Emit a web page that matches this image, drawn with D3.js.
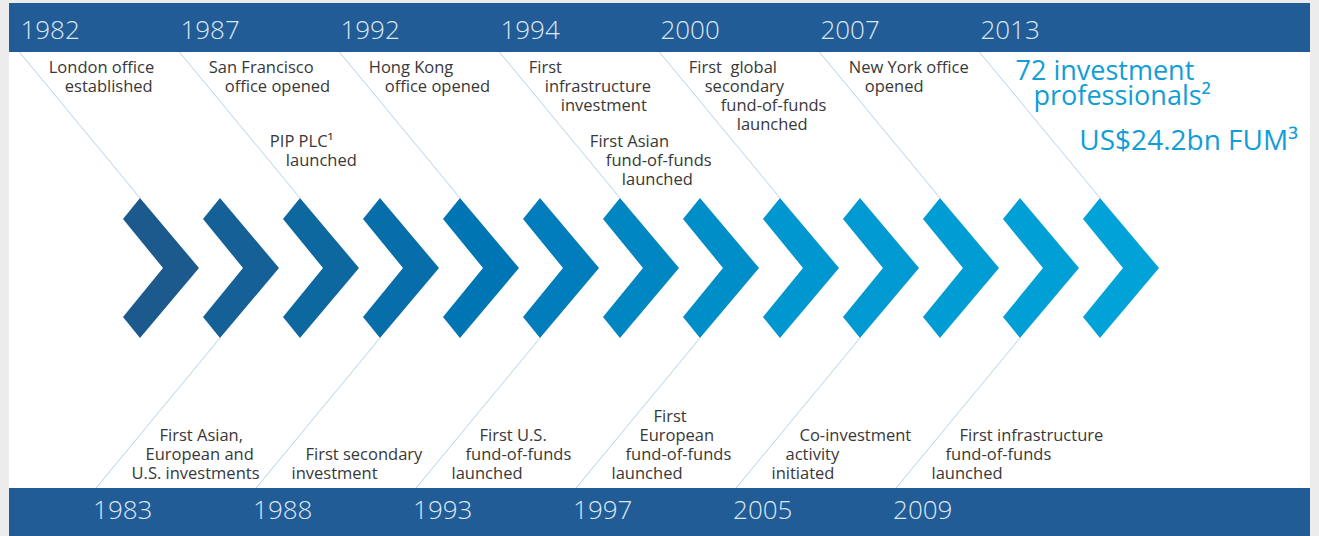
<!DOCTYPE html>
<html>
<head>
<meta charset="utf-8">
<script src="https://cdn.jsdelivr.net/npm/d3@7"></script>
<style>
       body { margin: 0; background: #ececec; }
       svg { display: block; }
       text { font-family: "Open Sans", "Noto Sans", sans-serif; white-space: pre; }
</style>
</head>
<body>
<svg id="timeline"></svg>
<script>
/*Milestone years in timeline order, top and bottom alternate*/
const milestones = ["1982","1983","1987","1988","1992","1993","1994","1997","2000","2005","2007","2009","2013"];
const topYears = ["1982","1987","1992","1994","2000","2007","2013"];
const bottomYears = ["1983","1988","1993","1997","2005","2009"];

/*Events: which year line they hang on, row (0 upper, 1 lower) and text lines*/
const eventYears = ["1982","1987","1987","1992","1994","1994","2000","2007",
                    "1983","1988","1993","1997","2005","2009"];
const eventRows  = [0,0,1,0,0,1,0,0, 0,0,0,0,0,0];
const eventLines = [
       ["London office","established"],
       ["San Francisco","office opened"],
       ["PIP PLC\u00b9","launched"],
       ["Hong Kong","office opened"],
       ["First","infrastructure","investment"],
       ["First Asian","fund-of-funds","launched"],
       ["First  global","secondary","fund-of-funds","launched"],
       ["New York office","opened"],
       ["First Asian,","European and","U.S. investments"],
       ["First secondary","investment"],
       ["First U.S.","fund-of-funds","launched"],
       ["First","European","fund-of-funds","launched"],
       ["Co-investment","activity","initiated"],
       ["First infrastructure","fund-of-funds","launched"]
];

/*Highlights for the latest year*/
const highlightYear = "2013";
const highlightRows = [0,1];
const highlightLines = [
       ["72 investment","professionals\u00b2"],
       ["US$24.2bn FUM\u00b3"]
];

const chartWidth = 1319;
const chartHeight = 536;
const barTop = 3, barHeight = 49;
const bottomBarTop = 488;
const panelLeft = 9, panelRight = 1310;
const chevTop = 198, chevMid = 268, chevBottom = 338;
const slope = 0.826;          /*horizontal shift per px of height for the diagonals*/
const lineStep = 19;          /*text line spacing*/

const svg = d3.select("#timeline")
       .attr("width", chartWidth)
       .attr("height", chartHeight);

/*x position of each chevron*/
const x = d3.scalePoint()
       .domain(milestones)
       .range([140, 1100]);

/*chevron colour goes from navy to cyan*/
const colour = d3.scaleLinear()
       .domain([0, 4, 8, 12])
       .range(["#1c5a8d", "#0075b3", "#0096cf", "#00a2d8"]);

/*row -> baseline of first text line for the top events*/
const rowY = d3.scaleOrdinal().domain([0, 1]).range([73, 147]);

const isTop = (year) => topYears.indexOf(year) >= 0;

/*x of a year's diagonal at height y*/
function diagX(year, y){
       if(isTop(year)){
              return x(year) - (chevTop - y) * slope;
       }
       return x(year) - (y - chevBottom) * slope;
}

/*white panel*/
svg.append("rect")
       .attr("x", panelLeft).attr("y", barTop)
       .attr("width", panelRight - panelLeft).attr("height", chartHeight - barTop)
       .attr("fill", "#ffffff");

/*diagonal guide lines*/
svg.append("g").selectAll("line")
       .data(milestones)
       .enter()
       .append("line")
       .attr("x1", (d)=> isTop(d) ? diagX(d, barTop + barHeight) : x(d))
       .attr("y1", (d)=> isTop(d) ? barTop + barHeight : chevBottom)
       .attr("x2", (d)=> isTop(d) ? x(d) : diagX(d, bottomBarTop))
       .attr("y2", (d)=> isTop(d) ? chevTop : bottomBarTop)
       .attr("stroke", "#b3d3ea")
       .attr("stroke-width", 1);

/*chevrons*/
const chevShape = [[0,-70],[59,0],[0,70],[-17,49],[23,0],[-17,-49]];
svg.append("g").selectAll("path")
       .data(milestones)
       .enter()
       .append("path")
       .attr("d", (d)=> d3.line()(chevShape.map((p)=>[x(d) + p[0], chevMid + p[1]])) + "Z")
       .attr("fill", (d,i)=> colour(i));

/*year bars*/
svg.append("rect")
       .attr("x", panelLeft).attr("y", barTop)
       .attr("width", panelRight - panelLeft).attr("height", barHeight)
       .attr("fill", "#215c96");
svg.append("rect")
       .attr("x", panelLeft).attr("y", bottomBarTop)
       .attr("width", panelRight - panelLeft).attr("height", chartHeight - bottomBarTop)
       .attr("fill", "#215c96");

svg.append("g").selectAll("text")
       .data(topYears)
       .enter()
       .append("text")
       .attr("x", (d)=> diagX(d, barTop + barHeight) + 1)
       .attr("y", 39)
       .attr("fill", "#dde7f2")
       .style("font-size", "26px")
       .style("font-weight", 300)
       .text((d)=>d);

svg.append("g").selectAll("text")
       .data(bottomYears)
       .enter()
       .append("text")
       .attr("x", (d)=> diagX(d, bottomBarTop) - 3)
       .attr("y", 519)
       .attr("fill", "#dde7f2")
       .style("font-size", "26px")
       .style("font-weight", 300)
       .text((d)=>d);

/*event texts*/
const events = eventYears.map((year, i)=>({year: year, row: eventRows[i], lines: eventLines[i]}));

const eventGroups = svg.append("g").selectAll("text")
       .data(events)
       .enter()
       .append("text")
       .attr("fill", "#383838")
       .style("font-size", "16.5px");

eventGroups.selectAll("tspan")
       .data((d)=> d.lines.map((line, j)=>{
              let y, xx;
              if(isTop(d.year)){
                     y = rowY(d.row) + j * lineStep;
                     xx = diagX(d.year, rowY(d.row)) + 12 + j * 16;
              } else {
                     const n = d.lines.length;
                     y = 479 - (n - 1 - j) * lineStep;
                     xx = diagX(d.year, 479) + 28 + (n - 1 - j) * 14;
              }
              return {text: line, x: xx, y: y};
       }))
       .enter()
       .append("tspan")
       .attr("x", (d)=>d.x)
       .attr("y", (d)=>d.y)
       .text((d)=>d.text);

/*highlights for latest year*/
const highlightSizes = [27, 28];
const highlights = svg.append("g").selectAll("text")
       .data(highlightLines)
       .enter()
       .append("text")
       .attr("fill", "#119ed6")
       .style("font-size", (d,i)=> highlightSizes[i] + "px");

highlights.selectAll("tspan")
       .data((d,i)=> d.map((line, j)=>{
              const base = (highlightRows[i] === 0 ? 80 : 150);
              return {
                     text: line,
                     x: diagX(highlightYear, base) + (i === 0 ? 13 : 19) + j * 18,
                     y: base + j * 25
              };
       }))
       .enter()
       .append("tspan")
       .attr("x", (d)=>d.x)
       .attr("y", (d)=>d.y)
       .text((d)=>d.text);
</script>
</body>
</html>
